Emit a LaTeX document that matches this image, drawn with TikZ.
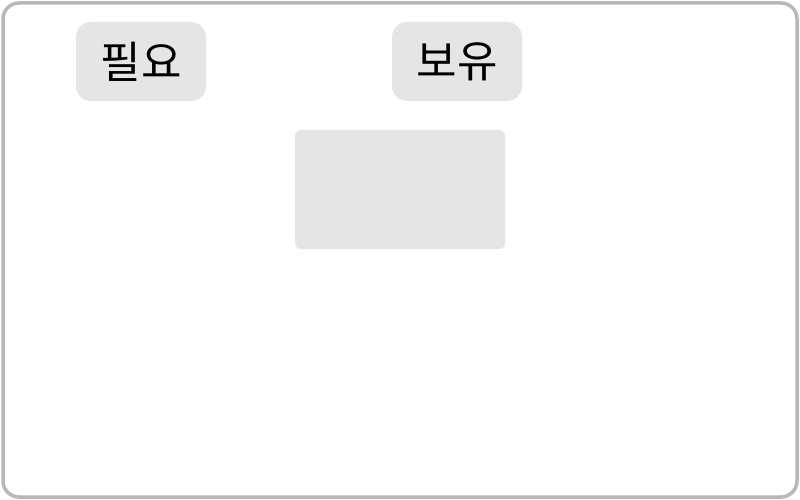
\documentclass[tikz,border=0pt]{standalone}
\usepackage{fontspec}
\newfontfamily\cjk{Noto Sans CJK KR}
\definecolor{boxgray}{HTML}{E5E5E5}
\definecolor{framegray}{HTML}{B8B8B8}
\begin{document}
\begin{tikzpicture}[x=1pt,y=-1pt,
  labelbox/.style={fill=boxgray, rounded corners=15pt, inner sep=0pt, minimum width=130pt, minimum height=79pt, font=\cjk\fontsize{44}{52}\selectfont, text=black},
  panel/.style={fill=boxgray, rounded corners=6pt, inner sep=0pt, minimum width=210pt, minimum height=119pt}]
\useasboundingbox (0,0) rectangle (800,500);
\fill[white] (0,0) rectangle (800,500);
\draw[framegray, line width=3.5pt, rounded corners=16pt] (3,3) rectangle (797,497);
\node[labelbox] (need) at (141,61.5) {\raisebox{1.5pt}{필요}};
\node[labelbox] (have) at (457,61.5) {\raisebox{1.5pt}{보유}};
\node[panel] (box) at (400,189.5) {};
\end{tikzpicture}
\end{document}
